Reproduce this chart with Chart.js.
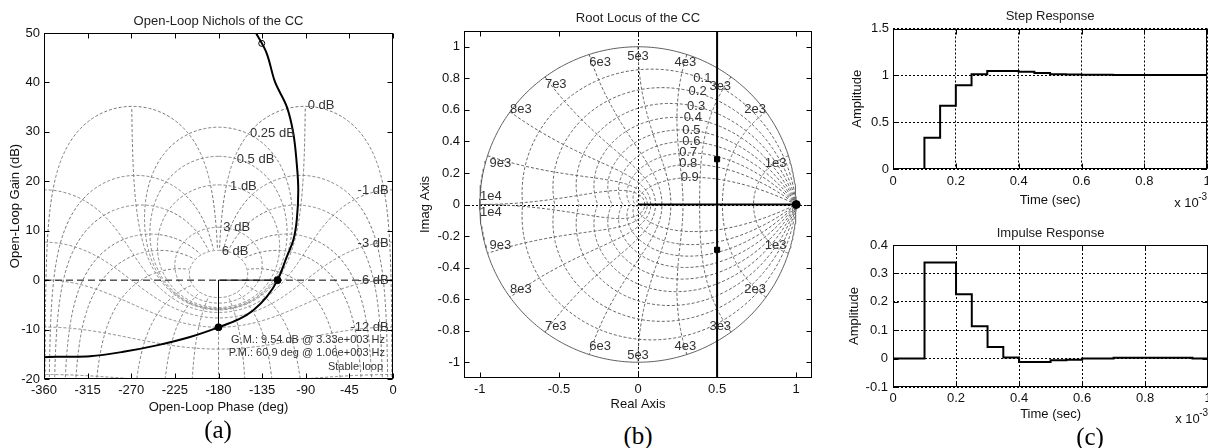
<!DOCTYPE html>
<html>
<head>
<meta charset="utf-8">
<script src="https://cdn.jsdelivr.net/npm/chart.js@4.4.1/dist/chart.umd.min.js"></script>
<style>
  html, body { margin: 0; padding: 0; background: #fff; }
  body { width: 1208px; height: 448px; position: relative; overflow: hidden; }
  canvas { position: absolute; }
  .cap { position: absolute; font: 25px 'Liberation Serif', 'Times New Roman', serif; color: #000; transform: translate(-50%, -50%); }
</style>
</head>
<body>
<canvas id="nichols" width="400" height="420" style="left:0;top:0"></canvas>
<canvas id="rlocus" width="410" height="420" style="left:410px;top:0"></canvas>
<canvas id="step" width="385" height="212" style="left:830px;top:0"></canvas>
<canvas id="impulse" width="385" height="206" style="left:830px;top:220px"></canvas>
<div class="cap" style="left:218px;top:430px">(a)</div>
<div class="cap" style="left:638px;top:436px">(b)</div>
<div class="cap" style="left:1090px;top:437px">(c)</div>
<script>
// ---- (a) open-loop Nichols ----
const phaseTicks = [-360, -315, -270, -225, -180, -135, -90, -45, 0];
const gainTicks = [-20, -10, 0, 10, 20, 30, 40, 50];
const nicholsPhase = [-141.3, -130.3, -121.7, -109.6, -102.8, -99.3, -97.7, -99.3, -102.8, -109.6, -119.1, -130.3, -144.1, -157.8, -180, -209.4, -243.7, -278.2, -312.5, -346.9, -360];
const nicholsGain = [50, 45.9, 40.1, 35.1, 29.7, 23.6, 18.2, 12.1, 8.1, 4.7, 0, -3.4, -6.1, -7.8, -9.54, -11.5, -13.2, -14.5, -15.4, -15.5, -15.6];
const markPhase = [-135.4];
const markGain = [47.9];
const gainMarginDb = 9.54;
const gainMarginHz = '3.33e+003';
const phaseMarginDeg = 60.9;
const phaseMarginHz = '1.06e+003';
const closedLoopGains = [6, 3, 1, 0.5, 0.25, 0, -1, -3, -6, -12, -20];
const closedLoopPhases = [-1, -5, -10, -20, -30, -50, -90, -120, -150, -180, -210, -240, -270, -310, -330, -340, -350, -355, -359];
const gainLabelText = ['0 dB', '0.25 dB', '0.5 dB', '1 dB', '3 dB', '6 dB', '-1 dB', '-3 dB', '-6 dB', '-12 dB'];
const gainLabelPhase = [-88, -147.5, -161.2, -168.1, -175, -176.7, -4.5, -4.5, -4.5, -4.5];
const gainLabelGain = [35.4, 29.7, 24.5, 19, 10.7, 5.9, 18.2, 7.4, -0.1, -9.6];

// ---- (b) root locus ----
const rlTicksX = [-1, -0.5, 0, 0.5, 1];
const rlTicksY = [-1, -0.8, -0.6, -0.4, -0.2, 0, 0.2, 0.4, 0.6, 0.8, 1];
const realBranchRe = [0, 1];
const realBranchIm = [0, 0];
const complexBranchRe = [0.5, 0.5];
const complexBranchIm = [-1.1, 1.1];
const clPoleRe = [0.5, 0.5];
const clPoleIm = [0.287, -0.287];
const olPoleRe = [1];
const olPoleIm = [0];
const dampingRatios = [0.1, 0.2, 0.3, 0.4, 0.5, 0.6, 0.7, 0.8, 0.9];
const natFreqSteps = [1, 2, 3, 4, 5, 6, 7, 8, 9, 10];
const dampLabelText = ['0.1', '0.2', '0.3', '0.4', '0.5', '0.6', '0.7', '0.8', '0.9'];
const dampLabelRe = [0.35, 0.32, 0.31, 0.29, 0.28, 0.28, 0.26, 0.26, 0.27];
const dampLabelIm = [0.80, 0.72, 0.62, 0.55, 0.47, 0.40, 0.33, 0.26, 0.17];
const freqLabelText = ['1e3', '2e3', '3e3', '4e3', '5e3', '6e3', '7e3', '8e3', '9e3', '1e4',
                       '1e3', '2e3', '3e3', '4e3', '5e3', '6e3', '7e3', '8e3', '9e3', '1e4'];
const freqLabelRe = [0.87, 0.74, 0.52, 0.30, 0, -0.24, -0.52, -0.74, -0.87, -0.93,
                     0.87, 0.74, 0.52, 0.30, 0, -0.24, -0.52, -0.74, -0.87, -0.93];
const freqLabelIm = [0.26, 0.60, 0.75, 0.90, 0.94, 0.90, 0.76, 0.60, 0.26, 0.05,
                     -0.26, -0.54, -0.77, -0.90, -0.96, -0.90, -0.77, -0.54, -0.26, -0.05];

// ---- (c) step and impulse ----
const timeTicks = [0, 0.2, 0.4, 0.6, 0.8, 1];
const stepTicksY = [0, 0.5, 1, 1.5];
const impulseTicksY = [-0.1, 0, 0.1, 0.2, 0.3, 0.4];
const sampleTime = [0, 0.05, 0.1, 0.15, 0.2, 0.25, 0.3, 0.35, 0.4, 0.45, 0.5, 0.55, 0.6, 0.65, 0.7, 0.75, 0.8, 0.85, 0.9, 0.95, 1];
const stepAmp = [0, 0, 0.333, 0.674, 0.894, 1.011, 1.046, 1.046, 1.039, 1.025, 1.011, 1.008, 1.006, 1.005, 1.004, 1.004, 1.004, 1.003, 1.003, 1.003, 1.003];
const impulseAmp = [0, 0, 0.338, 0.338, 0.227, 0.114, 0.041, 0.004, -0.012, -0.012, -0.006, -0.004, 0, 0, 0.003, 0.003, 0.003, 0.003, 0.003, 0, 0];

const FONT = "'Liberation Sans', Arial, sans-serif";
const font = { family: FONT, size: 13 };
const pts = (xs, ys) => xs.map((v, i) => ({ x: v, y: ys[i] }));

// Nichols chart grid, L = T / (1 - T) for closed loop T = t e^(j th)
function nicholsPoint(t, thDeg) {
  const th = thDeg * Math.PI / 180;
  const re = 1 - t * Math.cos(th), im = -t * Math.sin(th);
  return { x: thDeg - Math.atan2(im, re) * 180 / Math.PI, y: 20 * Math.log10(t / Math.hypot(re, im)) };
}
function gainContour(db) {
  const t = Math.pow(10, db / 20), out = [];
  for (let i = 1; i < 900; i++) {
    const th = -180 * (1 - Math.cos(Math.PI * i / 900));
    if (db === 0 && (th > -1 || th < -359)) continue;
    out.push(nicholsPoint(t, th));
  }
  return out;
}
function phaseContour(th) {
  const out = [];
  let db = -30;
  while (db <= 6) {
    out.push(nicholsPoint(Math.pow(10, db / 20), th));
    db += Math.abs(db) < 1 ? 0.01 : 0.2;
  }
  return out;
}

// z-plane grid: constant damping and constant natural frequency curves
function mirror(up) {
  return up.concat(up.slice().reverse().map(p => ({ x: p.x, y: -p.y })));
}
function dampingCurve(z) {
  const wd = Math.sqrt(1 - z * z), up = [];
  for (let i = 0; i <= 240; i++) {
    const w = Math.PI / wd * i / 240, r = Math.exp(-z * w);
    up.push({ x: r * Math.cos(w * wd), y: r * Math.sin(w * wd) });
  }
  return mirror(up);
}
function freqCurve(k) {
  const w = k * Math.PI / 10, up = [];
  for (let i = 0; i <= 120; i++) {
    const z = i / 120, r = Math.exp(-z * w), a = w * Math.sqrt(1 - z * z);
    up.push({ x: r * Math.cos(a), y: r * Math.sin(a) });
  }
  return mirror(up);
}
const unitCircle = [];
for (let i = 0; i <= 360; i++) unitCircle.push({ x: Math.cos(i * Math.PI / 180), y: Math.sin(i * Math.PI / 180) });

const gridLine = (data, color, dash) => ({ data, showLine: true, borderColor: color, borderWidth: 1, borderDash: dash, pointRadius: 0, tension: 0 });
const solidLine = (data, width, tension = 0) => ({ data, showLine: true, borderColor: '#000', borderWidth: width, pointRadius: 0, tension });
const marker = (data, style, r, fill) => ({ data, showLine: false, pointStyle: style, pointRadius: r, pointBorderWidth: 1, pointBorderColor: '#000', pointBackgroundColor: fill });

// box with inward ticks, text in data units, notes in the lower right
const frame = {
  id: 'frame',
  beforeDatasetsDraw(chart, args, opts) {
    if (!opts.originLines) return;
    const { ctx, chartArea: a, scales: { x, y } } = chart;
    const x0 = Math.round(x.getPixelForValue(0)) + 0.5, y0 = Math.round(y.getPixelForValue(0)) + 0.5;
    ctx.save();
    ctx.strokeStyle = '#000';
    ctx.lineWidth = 1;
    ctx.setLineDash([2, 2]);
    ctx.beginPath();
    ctx.moveTo(a.left, y0); ctx.lineTo(a.right, y0);
    ctx.moveTo(x0, a.top); ctx.lineTo(x0, a.bottom);
    ctx.stroke();
    ctx.restore();
  },
  afterDatasetsDraw(chart, args, opts) {
    const { ctx, chartArea: a, scales: { x, y } } = chart;
    ctx.save();
    ctx.fillStyle = '#333';
    ctx.textBaseline = 'middle';
    ctx.font = '13px ' + FONT;
    (opts.labels || []).forEach(l => {
      ctx.textAlign = l.align;
      ctx.fillText(l.text, x.getPixelForValue(l.x), y.getPixelForValue(l.y));
    });
    ctx.font = '11px ' + FONT;
    ctx.textAlign = 'right';
    (opts.notes || []).forEach(n => ctx.fillText(n.text, a.right - n.dx, a.bottom - n.dy));
    if (opts.exponent) {
      ctx.fillStyle = '#111';
      ctx.textAlign = 'left';
      ctx.font = '13px ' + FONT;
      ctx.fillText('x 10', a.right - 33, a.bottom + opts.exponent);
      ctx.font = '10px ' + FONT;
      ctx.fillText('-3', a.right - 9, a.bottom + opts.exponent - 6);
    }
    ctx.strokeStyle = '#000';
    ctx.lineWidth = 1;
    ctx.setLineDash([]);
    const L = Math.round(a.left) + 0.5, R = Math.round(a.right) - 0.5;
    const T = Math.round(a.top) + 0.5, B = Math.round(a.bottom) - 0.5;
    ctx.strokeRect(L, T, R - L, B - T);
    ctx.beginPath();
    x.ticks.forEach(t => {
      const p = Math.round(x.getPixelForValue(t.value)) + 0.5;
      ctx.moveTo(p, T); ctx.lineTo(p, T + 5);
      ctx.moveTo(p, B); ctx.lineTo(p, B - 5);
    });
    y.ticks.forEach(t => {
      const p = Math.round(y.getPixelForValue(t.value)) + 0.5;
      ctx.moveTo(L, p); ctx.lineTo(L + 5, p);
      ctx.moveTo(R, p); ctx.lineTo(R - 5, p);
    });
    ctx.stroke();
    ctx.restore();
  }
};

function axis(values, min, max, title, size, tickPad, titlePad, vertical, grid) {
  return {
    type: 'linear',
    min, max,
    afterBuildTicks: s => { s.ticks = values.map(v => ({ value: v })); },
    afterFit: s => { if (vertical) s.width = size; else s.height = size; },
    ticks: { font, color: '#111', autoSkip: false, maxRotation: 0, padding: tickPad, callback: v => String(v) },
    grid: grid ? { display: true, color: '#000', lineWidth: 1, drawTicks: false } : { display: false, drawTicks: false },
    border: { display: false, dash: [2, 2] },
    title: { display: true, text: title, font, color: '#111', padding: vertical ? { top: titlePad, bottom: 0 } : { top: 0, bottom: titlePad } }
  };
}

function baseOptions(title, titlePad, padRight, scales, frameOpts) {
  return {
    responsive: false,
    animation: false,
    devicePixelRatio: 1,
    events: [],
    layout: { padding: { left: 0, right: padRight, top: 0, bottom: 0 } },
    scales,
    plugins: {
      legend: { display: false },
      tooltip: { enabled: false },
      title: { display: true, text: title, fullSize: false, color: '#222', font: { family: FONT, size: 13, weight: 'normal' }, padding: titlePad },
      frame: frameOpts
    }
  };
}

// (a)
const pmPhase = -180 + phaseMarginDeg;
const nicholsSets = [
  solidLine(pts(nicholsPhase, nicholsGain), 2, 0.35),
  marker(pts([pmPhase, -180], [0, -gainMarginDb]), 'circle', 3.5, '#000'),
  marker(pts(markPhase, markGain), 'circle', 3, 'rgba(0,0,0,0)'),
  solidLine(pts([-180, pmPhase], [0, 0]), 1),
  solidLine(pts([-180, -180], [0, -gainMarginDb]), 1),
  Object.assign(solidLine(pts([phaseTicks[0], phaseTicks[phaseTicks.length - 1]], [0, 0]), 1), { borderDash: [7, 4] })
];
closedLoopGains.forEach(g => nicholsSets.push(gridLine(gainContour(g), '#767676', [3, 2])));
closedLoopPhases.forEach(p => nicholsSets.push(gridLine(phaseContour(p), '#767676', [3, 2])));

new Chart(document.getElementById('nichols'), {
  type: 'scatter',
  data: { datasets: nicholsSets },
  plugins: [frame],
  options: baseOptions('Open-Loop Nichols of the CC', { top: 13.2, bottom: 4.2 }, 7, {
    x: axis(phaseTicks, -360, 0, 'Open-Loop Phase (deg)', 41, 3.2, 4.7, false, false),
    y: axis(gainTicks, -20, 50, 'Open-Loop Gain (dB)', 44, 4, 7.2, true, false)
  }, {
    labels: gainLabelText.map((t, i) => ({ text: t, x: gainLabelPhase[i], y: gainLabelGain[i], align: t[0] === '-' ? 'right' : 'left' })),
    notes: [
      { text: 'G.M.: ' + gainMarginDb + ' dB @ ' + gainMarginHz + ' Hz', dx: 8, dy: 39 },
      { text: 'P.M.: ' + phaseMarginDeg + ' deg @ ' + phaseMarginHz + ' Hz', dx: 8, dy: 26 },
      { text: 'Stable loop', dx: 10, dy: 12.5 }
    ]
  })
});

// (b)
const rlSets = [
  marker(pts(clPoleRe, clPoleIm), 'rect', 3.6, '#000'),
  marker(pts(olPoleRe, olPoleIm), 'circle', 4, '#000'),
  solidLine(pts(realBranchRe, realBranchIm), 2),
  solidLine(pts(complexBranchRe, complexBranchIm), 2),
  gridLine(unitCircle, '#5e5e5e', [])
];
dampingRatios.forEach(z => rlSets.push(gridLine(dampingCurve(z), '#5e5e5e', [3, 2])));
natFreqSteps.forEach(k => rlSets.push(gridLine(freqCurve(k), '#5e5e5e', [3, 2])));

new Chart(document.getElementById('rlocus'), {
  type: 'scatter',
  data: { datasets: rlSets },
  plugins: [frame],
  options: baseOptions('Root Locus of the CC', { top: 10.2, bottom: 5.2 }, 8, {
    x: axis(rlTicksX, -1.1, 1.1, 'Real Axis', 42, 3.2, 8.2, false, false),
    y: axis(rlTicksY, -1.1, 1.1, 'Imag Axis', 54, 4, 7.2, true, false)
  }, {
    originLines: true,
    labels: dampLabelText.map((t, i) => ({ text: t, x: dampLabelRe[i], y: dampLabelIm[i], align: 'left' }))
      .concat(freqLabelText.map((t, i) => ({ text: t, x: freqLabelRe[i], y: freqLabelIm[i], align: 'center' })))
  })
});

// (c)
const stairs = data => ({ data, showLine: true, stepped: 'before', borderColor: '#000', borderWidth: 2, pointRadius: 0 });

new Chart(document.getElementById('step'), {
  type: 'scatter',
  data: { datasets: [stairs(pts(sampleTime, stepAmp))] },
  plugins: [frame],
  options: baseOptions('Step Response', { top: 8.2, bottom: 4.7 }, 5, {
    x: axis(timeTicks, 0, 1, 'Time (sec)', 43, 4.2, 4.2, false, true),
    y: axis(stepTicksY, 0, 1.5, 'Amplitude', 63, 4, 19.7, true, true)
  }, { exponent: 34 })
});

new Chart(document.getElementById('impulse'), {
  type: 'scatter',
  data: { datasets: [stairs(pts(sampleTime, impulseAmp))] },
  plugins: [frame],
  options: baseOptions('Impulse Response', { top: 5.2, bottom: 4.2 }, 5, {
    x: axis(timeTicks, 0, 1, 'Time (sec)', 39, 3.2, 4.2, false, true),
    y: axis(impulseTicksY, -0.1, 0.4, 'Amplitude', 63, 5, 16.2, true, true)
  }, { exponent: 32 })
});
</script>
</body>
</html>
